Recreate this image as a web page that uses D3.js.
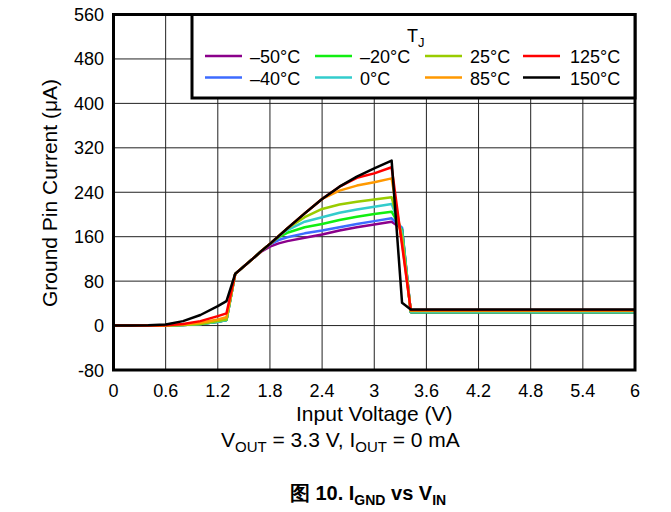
<!DOCTYPE html>
<html>
<head>
<meta charset="utf-8">
<script src="https://cdn.jsdelivr.net/npm/d3@7"></script>
<style>
  body { margin: 0; background: #fff; }
  text { font-family: "Liberation Sans", Arial, Helvetica, sans-serif; fill: #000; }
</style>
</head>
<body>
<div id="chart"></div>
<script>
// input voltage (V) shared by every series
const voltage = [0, 0.2, 0.4, 0.6, 0.8, 1.0, 1.2, 1.3, 1.4, 1.6, 1.7, 1.8, 1.9, 2.0, 2.2, 2.4, 2.6, 2.8, 3.0, 3.2, 3.32, 3.42, 4.0, 5.0, 6.0];

// ground pin current (uA) per junction temperature
const iNeg50 = [0, 0, 0, 0, 1, 3, 7, 10, 93, 120, 133, 142, 148, 152, 158, 164, 171, 177, 182, 187, 174, 24, 24, 24, 24];
const iNeg40 = [0, 0, 0, 0, 1, 3, 7, 10, 93, 120, 134, 146, 154, 159, 166, 171, 177, 183, 188, 193, 176, 24, 24, 24, 24];
const iNeg20 = [0, 0, 0, 0, 1, 3, 7, 10, 93, 120, 134, 147, 159, 167, 177, 183, 190, 196, 201, 205, 172, 24, 24, 24, 24];
const i0 = [0, 0, 0, 0, 1, 3, 7, 10, 93, 120, 134, 147, 161, 172, 187, 195, 203, 209, 214, 219, 168, 25, 25, 25, 25];
const i25 = [0, 0, 0, 0, 1, 3, 8, 11, 93, 120, 134, 147, 161, 175, 195, 210, 218, 223, 227, 231, 160, 26, 26, 26, 26];
const i85 = [0, 0, 0, 0, 2, 5, 11, 15, 93, 120, 134, 147, 161, 175, 202, 228, 243, 252, 258, 265, 150, 27, 27, 27, 27];
const i125 = [0, 0, 0, 0.5, 3, 8, 17, 22, 93, 120, 134, 147, 161, 175, 202, 228, 250, 266, 274, 285, 145, 28, 28, 28, 28];
const i150 = [0, 0, 0.5, 2, 8, 19, 35, 44, 93, 120, 134, 147, 161, 175, 202, 228, 250, 268, 283, 297, 41, 29, 29, 29, 29];

const seriesNames = ["–50°C", "–40°C", "–20°C", "0°C", "25°C", "85°C", "125°C", "150°C"];
const seriesValues = [iNeg50, iNeg40, iNeg20, i0, i25, i85, i125, i150];
const seriesColors = ["#8b008b", "#3d6bff", "#11ee11", "#33cccc", "#99cc00", "#ff9900", "#ff0000", "#000000"];

const xTicks = [0, 0.6, 1.2, 1.8, 2.4, 3, 3.6, 4.2, 4.8, 5.4, 6];
const yTicks = [-80, 0, 80, 160, 240, 320, 400, 480, 560];

const W = 671, H = 512;
const plot = { left: 113.5, right: 635, top: 14.5, bottom: 370 };

const svg = d3.select("#chart").append("svg")
    .attr("width", W)
    .attr("height", H);

const x = d3.scaleLinear().domain([0, 6]).range([plot.left, plot.right]);
const y = d3.scaleLinear().domain([-80, 560]).range([plot.bottom, plot.top]);

// grid lines
svg.append("g")
    .selectAll("line")
    .data(xTicks.slice(1, -1))
    .join("line")
    .attr("x1", d => x(d)).attr("x2", d => x(d))
    .attr("y1", plot.top).attr("y2", plot.bottom)
    .attr("stroke", "#222").attr("stroke-width", 1);

svg.append("g")
    .selectAll("line")
    .data(yTicks.slice(1, -1))
    .join("line")
    .attr("x1", plot.left).attr("x2", plot.right)
    .attr("y1", d => y(d)).attr("y2", d => y(d))
    .attr("stroke", "#222").attr("stroke-width", 1);

// tick labels
svg.append("g")
    .selectAll("text")
    .data(xTicks)
    .join("text")
    .attr("x", d => x(d))
    .attr("y", 396.5)
    .attr("text-anchor", "middle")
    .attr("font-size", 18)
    .text(d => d);

svg.append("g")
    .selectAll("text")
    .data(yTicks)
    .join("text")
    .attr("x", 104)
    .attr("y", d => y(d) + 6.5)
    .attr("text-anchor", "end")
    .attr("font-size", 18)
    .text(d => d);

// curves
const line = d3.line()
    .x((d, i) => x(voltage[i]))
    .y(d => y(d));

svg.append("g")
    .selectAll("path")
    .data(seriesValues)
    .join("path")
    .attr("d", d => line(d))
    .attr("fill", "none")
    .attr("stroke", (d, i) => seriesColors[i])
    .attr("stroke-width", 2.5)
    .attr("stroke-linejoin", "round");

// frame
svg.append("rect")
    .attr("x", plot.left).attr("y", plot.top)
    .attr("width", plot.right - plot.left)
    .attr("height", plot.bottom - plot.top)
    .attr("fill", "none")
    .attr("stroke", "#000")
    .attr("stroke-width", 3);

// legend
const legend = svg.append("g");
legend.append("rect")
    .attr("x", 192).attr("y", plot.top)
    .attr("width", plot.right - 192)
    .attr("height", 98 - plot.top)
    .attr("fill", "#fff")
    .attr("stroke", "#000")
    .attr("stroke-width", 3);

const tj = legend.append("text")
    .attr("x", 407).attr("y", 42)
    .attr("font-size", 18);
tj.append("tspan").text("T");
tj.append("tspan").attr("dy", 5).attr("font-size", 13).text("J");

const colX = [205, 315, 425, 523];
const textX = [250, 360, 470, 570];
const rowY = [56, 77.5];

const items = legend.selectAll("g.item")
    .data(seriesNames)
    .join("g")
    .attr("class", "item")
    .attr("transform", (d, i) => `translate(${colX[Math.floor(i / 2)]},${rowY[i % 2]})`);

items.append("line")
    .attr("x1", 0).attr("x2", 37)
    .attr("stroke", (d, i) => seriesColors[i])
    .attr("stroke-width", 2.5);

items.append("text")
    .attr("x", (d, i) => textX[Math.floor(i / 2)] - colX[Math.floor(i / 2)])
    .attr("y", 7)
    .attr("font-size", 18)
    .text(d => d);

// axis titles
svg.append("text")
    .attr("x", (plot.left + plot.right) / 2)
    .attr("y", 421)
    .attr("text-anchor", "middle")
    .attr("font-size", 21)
    .text("Input Voltage (V)");

svg.append("text")
    .attr("transform", "translate(57,193) rotate(-90)")
    .attr("text-anchor", "middle")
    .attr("font-size", 21)
    .text("Ground Pin Current (μA)");

// condition line
const cond = svg.append("text")
    .attr("x", 221).attr("y", 447)
    .attr("font-size", 21);
cond.append("tspan").text("V");
cond.append("tspan").attr("dy", 5).attr("font-size", 15).text("OUT");
cond.append("tspan").attr("dy", -5).text(" = 3.3 V, I");
cond.append("tspan").attr("dy", 5).attr("font-size", 15).text("OUT");
cond.append("tspan").attr("dy", -5).text(" = 0 mA");

// caption
const cap = svg.append("text")
    .attr("x", 368).attr("y", 500)
    .attr("text-anchor", "middle")
    .attr("font-size", 20)
    .attr("font-weight", "bold");
cap.append("tspan").text("图 10. I");
cap.append("tspan").attr("dy", 5).attr("font-size", 14).text("GND");
cap.append("tspan").attr("dy", -5).text(" vs V");
cap.append("tspan").attr("dy", 5).attr("font-size", 14).text("IN");
</script>
</body>
</html>
